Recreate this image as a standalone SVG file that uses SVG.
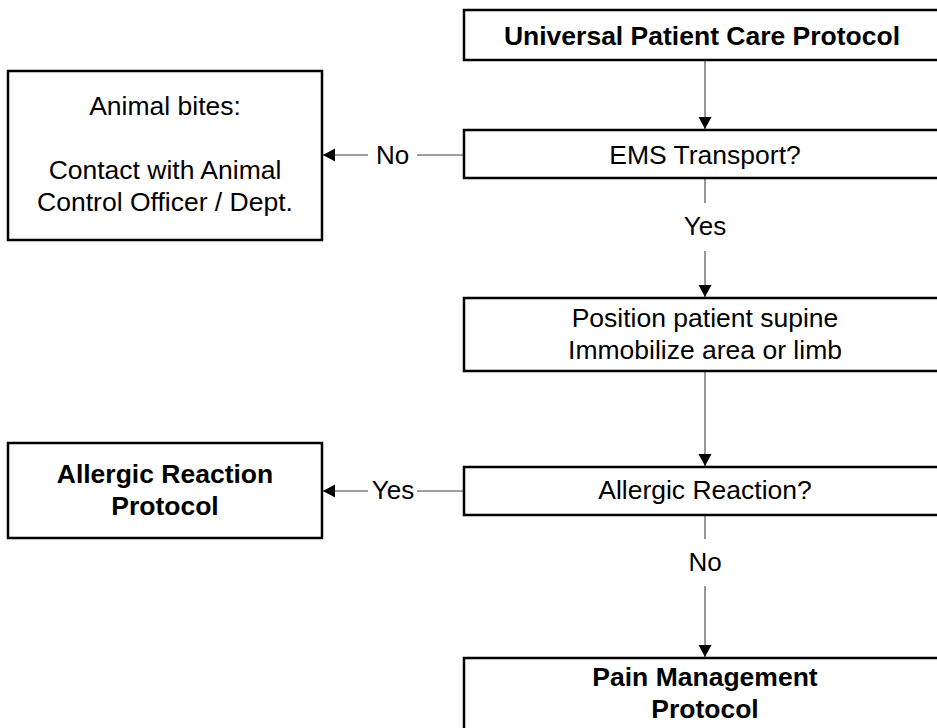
<svg xmlns="http://www.w3.org/2000/svg" width="937" height="728" viewBox="0 0 937 728">
<style>
.box{fill:#fff;stroke:#000;stroke-width:2.5}
.t{font-family:"Liberation Sans",Arial,sans-serif;font-size:26.5px;fill:#000;text-anchor:middle}
.b{font-weight:bold}
.c{fill:none;stroke:#7f7f7f;stroke-width:1.6}
.lbl{font-family:"Liberation Sans",Arial,sans-serif;font-size:26px;fill:#000;text-anchor:middle}
</style>
<defs>
<marker id="arr" markerUnits="userSpaceOnUse" markerWidth="14" markerHeight="14" refX="12" refY="6.5" orient="auto">
<path d="M0,0 L12,6.5 L0,13 z" fill="#000"/>
</marker>
</defs>
<rect width="937" height="728" fill="#fff"/>
<g id="connectors">
<path class="c" d="M705,60 V129" marker-end="url(#arr)"/>
<path class="c" d="M464,155 H417"/>
<path class="c" d="M368,155 H323" marker-end="url(#arr)"/>
<text class="lbl" x="392.5" y="164">No</text>
<path class="c" d="M705,178 V203"/>
<path class="c" d="M705,251 V297" marker-end="url(#arr)"/>
<text class="lbl" x="705" y="235">Yes</text>
<path class="c" d="M705,371 V466" marker-end="url(#arr)"/>
<path class="c" d="M464,491 H417"/>
<path class="c" d="M368,491 H323" marker-end="url(#arr)"/>
<text class="lbl" x="393" y="499">Yes</text>
<path class="c" d="M705,515 V539"/>
<path class="c" d="M705,586 V657" marker-end="url(#arr)"/>
<text class="lbl" x="705" y="571">No</text>
</g>
<g id="universal">
<rect class="box" x="464" y="10" width="482" height="50"/>
<text class="t b" x="702" y="45">Universal Patient Care Protocol</text>
</g>
<g id="ems">
<rect class="box" x="464" y="130" width="482" height="48"/>
<text class="t" x="705" y="164">EMS Transport?</text>
</g>
<g id="animal">
<rect class="box" x="8" y="71" width="314" height="169"/>
<text class="t" x="165" y="115">Animal bites:</text>
<text class="t" x="165" y="179">Contact with Animal</text>
<text class="t" x="165" y="211">Control Officer / Dept.</text>
</g>
<g id="position">
<rect class="box" x="464" y="298" width="482" height="73"/>
<text class="t" x="705" y="327">Position patient supine</text>
<text class="t" x="705" y="359">Immobilize area or limb</text>
</g>
<g id="allergic-q">
<rect class="box" x="464" y="467" width="482" height="48"/>
<text class="t" x="705" y="499">Allergic Reaction?</text>
</g>
<g id="allergic-protocol">
<rect class="box" x="8" y="443" width="314" height="95"/>
<text class="t b" x="165" y="483">Allergic Reaction</text>
<text class="t b" x="165" y="515">Protocol</text>
</g>
<g id="pain">
<rect class="box" x="464" y="658" width="482" height="100"/>
<text class="t b" x="705" y="686">Pain Management</text>
<text class="t b" x="705" y="718">Protocol</text>
</g>
</svg>
